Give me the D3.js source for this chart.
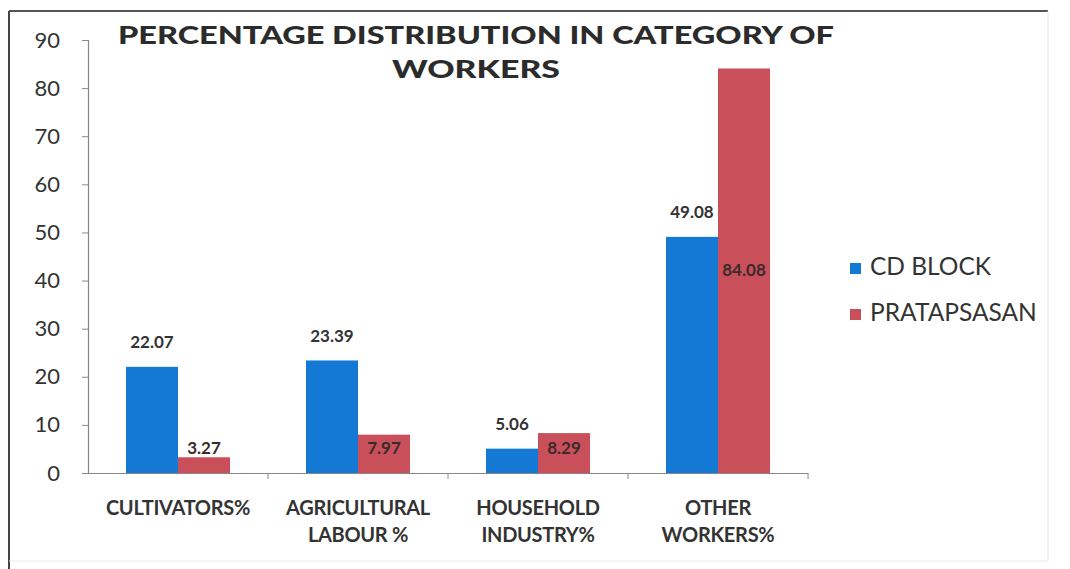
<!DOCTYPE html>
<html>
<head>
<meta charset="utf-8">
<script src="https://cdn.jsdelivr.net/npm/d3@7"></script>
<style>
  html, body { margin: 0; padding: 0; background: #fff; }
  svg { display: block; font-family: Lato, "Open Sans", sans-serif; }
</style>
</head>
<body>
<svg id="chart" width="1070" height="569"></svg>
<script>
// Worker categories (two-line labels) and the two compared series
const categories = ["CULTIVATORS%", "AGRICULTURAL LABOUR %", "HOUSEHOLD INDUSTRY%", "OTHER WORKERS%"];
const categoryLines = [["CULTIVATORS%"], ["AGRICULTURAL", "LABOUR %"], ["HOUSEHOLD", "INDUSTRY%"], ["OTHER", "WORKERS%"]];
const seriesNames = ["CD BLOCK", "PRATAPSASAN"];
const cdBlock = [22.07, 23.39, 5.06, 49.08];
const pratapsasan = [3.27, 7.97, 8.29, 84.08];
const yTicks = [0, 10, 20, 30, 40, 50, 60, 70, 80, 90];
const titleLines = ["PERCENTAGE DISTRIBUTION IN CATEGORY OF", "WORKERS"];

const colors = ["#1479d4", "#c9505a"];
const svg = d3.select("#chart");

// outer frame
svg.append("line").attr("x1", 9).attr("y1", 11).attr("x2", 1048).attr("y2", 11)
  .attr("stroke", "#555").attr("stroke-width", 2);
svg.append("line").attr("x1", 9).attr("y1", 11).attr("x2", 9).attr("y2", 569)
  .attr("stroke", "#444").attr("stroke-width", 2);
svg.append("line").attr("x1", 1048).attr("y1", 11).attr("x2", 1048).attr("y2", 561)
  .attr("stroke", "#e4e4e4").attr("stroke-width", 1);
svg.append("line").attr("x1", 9).attr("y1", 561).attr("x2", 1048).attr("y2", 561)
  .attr("stroke", "#eaeaea").attr("stroke-width", 1);

const x0 = d3.scaleBand().domain(categories).range([88, 808]).paddingInner(0.422).paddingOuter(0.211);
const x1 = d3.scaleBand().domain(seriesNames).range([0, x0.bandwidth()]);
const y = d3.scaleLinear().domain([0, 90]).range([473, 40]);

// y axis
const yAxis = svg.append("g").attr("transform", "translate(88,0)")
  .call(d3.axisLeft(y).tickValues(yTicks).tickSize(6).tickPadding(22).tickFormat(d3.format("d")));
yAxis.select(".domain").attr("stroke", "#888").attr("stroke-width", 1.2);
yAxis.selectAll(".tick line").attr("stroke", "#888");
yAxis.selectAll(".tick text").attr("font-size", 22).attr("fill", "#333").attr("font-family", "Lato, sans-serif");

// x axis with ticks at category boundaries
const xAxis = svg.append("g").attr("transform", `translate(0,${y(0)})`)
  .call(d3.axisBottom(x0).tickSize(0).tickFormat(""));
xAxis.select(".domain").attr("stroke", "#888").attr("stroke-width", 1.2);
const boundaries = categories.map(c => x0(c) + x0.bandwidth() / 2 + x0.step() / 2);
svg.append("g").selectAll("line").data(boundaries).join("line")
  .attr("x1", d => d).attr("x2", d => d).attr("y1", y(0)).attr("y2", y(0) + 6)
  .attr("stroke", "#888");

// category labels
categories.forEach((c, i) => {
  const t = svg.append("text").attr("x", x0(c) + x0.bandwidth() / 2).attr("y", 515)
    .attr("text-anchor", "middle").attr("font-size", 20).attr("font-weight", "bold")
    .attr("fill", "#333").attr("letter-spacing", -0.3);
  categoryLines[i].forEach((line, j) => {
    t.append("tspan").attr("x", x0(c) + x0.bandwidth() / 2).attr("dy", j === 0 ? 0 : 27).text(line);
  });
});

// bars
const rows = categories.map((c, i) => ({ c, vals: [cdBlock[i], pratapsasan[i]] }));
const groups = svg.append("g").selectAll("g").data(rows).join("g")
  .attr("transform", d => `translate(${x0(d.c)},0)`);
groups.selectAll("rect").data(d => d.vals.map((v, k) => ({ v, k }))).join("rect")
  .attr("x", d => x1(seriesNames[d.k]))
  .attr("y", d => y(d.v))
  .attr("width", x1.bandwidth())
  .attr("height", d => y(0) - y(d.v))
  .attr("fill", d => colors[d.k]);

// CD BLOCK value labels above bars
groups.append("text")
  .attr("x", x1(seriesNames[0]) + x1.bandwidth() / 2)
  .attr("y", d => y(d.vals[0]) - 23)
  .attr("dominant-baseline", "middle").attr("text-anchor", "middle")
  .attr("font-size", 17).attr("font-weight", "bold").attr("fill", "#333")
  .text(d => d.vals[0].toFixed(2));

// PRATAPSASAN value labels near the lower part of the bars
const pratapLabelLevel = [4.8, 4.8, 4.8, 41.8];
groups.append("text")
  .attr("x", x1(seriesNames[1]) + x1.bandwidth() / 2)
  .attr("y", (d, i) => y(pratapLabelLevel[i]))
  .attr("dominant-baseline", "middle").attr("text-anchor", "middle")
  .attr("font-size", 17).attr("font-weight", "bold").attr("fill", "#3a2a2a")
  .text(d => d.vals[1].toFixed(2));

// title
titleLines.forEach((line, i) => {
  svg.append("text").attr("x", 476).attr("y", 38 + i * 34)
    .attr("dominant-baseline", "middle").attr("text-anchor", "middle")
    .attr("font-size", 25).attr("font-weight", "900").attr("fill", "#2b2b2b")
    .attr("textLength", i === 0 ? 716 : 168).attr("lengthAdjust", "spacingAndGlyphs")
    .text(line);
});

// legend
const legend = svg.append("g").selectAll("g").data(seriesNames).join("g")
  .attr("transform", (d, i) => `translate(850,${269 + i * 46})`);
legend.append("rect").attr("x", 0).attr("y", -6).attr("width", 11).attr("height", 11)
  .attr("fill", (d, i) => colors[i]);
legend.append("text").attr("x", 20).attr("y", 0).attr("dominant-baseline", "middle")
  .attr("font-size", 24.5).attr("fill", "#333")
  .text(d => d);
</script>
</body>
</html>
